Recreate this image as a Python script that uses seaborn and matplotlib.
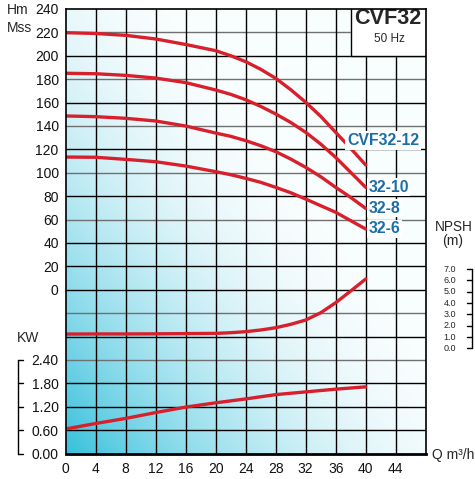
import numpy as np
import pandas as pd
import matplotlib
matplotlib.use("Agg")
import matplotlib.pyplot as plt
import matplotlib.transforms as mtransforms
from matplotlib import font_manager
import seaborn as sns

# flow rate (m3/h) for the head curves
q_head = [0, 4, 8, 12, 16, 20, 22, 24, 26, 28, 30, 32, 34, 36, 38, 40]
# head curves (m) for each model
head_12 = [219.7, 219.0, 217.4, 214.3, 209.6, 204.3, 200.0, 194.9, 188.4, 180.7, 171.0, 160.2, 148.2, 134.5, 120.8, 106.6]
head_10 = [185.0, 184.6, 183.2, 180.9, 177.0, 170.7, 167.0, 162.4, 156.7, 150.2, 143.0, 134.5, 124.5, 113.1, 100.3, 87.5]
head_8 = [148.5, 147.9, 146.5, 144.2, 139.9, 133.9, 131.1, 127.4, 123.1, 118.0, 111.7, 104.6, 96.6, 87.5, 78.9, 69.5]
head_6 = [113.4, 113.2, 111.4, 109.4, 105.7, 100.9, 98.3, 95.2, 91.8, 87.5, 82.9, 77.5, 71.8, 66.2, 59.0, 51.9]
models = ["CVF32-12", "32-10", "32-8", "32-6"]
# NPSH (m)
q_npsh = [0, 4, 8, 12, 16, 20, 22, 24, 26, 28, 30, 32, 34, 36, 38, 40]
npsh_m = [1.26, 1.27, 1.27, 1.28, 1.30, 1.32, 1.38, 1.47, 1.62, 1.82, 2.12, 2.50, 3.14, 4.03, 5.06, 6.12]
# power (kW)
q_kw = [0, 4, 8, 12, 16, 20, 24, 28, 32, 36, 40]
power_kw = [0.63, 0.77, 0.90, 1.05, 1.19, 1.30, 1.40, 1.51, 1.58, 1.65, 1.71]

x_ticks = list(range(0, 48, 4))
head_ticks = list(range(0, 260, 20))
kw_ticks = [0.00, 0.60, 1.20, 1.80, 2.40]
npsh_ticks = [0.0, 1.0, 2.0, 3.0, 4.0, 5.0, 6.0, 7.0]


# secondary scales drawn in head units
def kw_to_h(v):
    return -140 + np.asarray(v) / 0.6 * 20


def npsh_to_h(v):
    return -50.1 + np.asarray(v) * 9.68


sns.set_theme(style="white")
names = {f.name for f in font_manager.fontManager.ttflist}
narrow = "Liberation Sans Narrow" in names
plt.rcParams["font.family"] = ["Liberation Sans", "DejaVu Sans"]
cond = ["Liberation Sans Narrow", "Liberation Sans", "DejaVu Sans"] if narrow else ["Liberation Sans", "DejaVu Sans"]
k = 1.0 if narrow else 0.82

red = "#d8202c"
blue = "#1a6ea8"

fig = plt.figure(figsize=(4.75, 4.79), dpi=100)
ax = fig.add_axes([0.1383, 0.0532, 0.7579, 0.9282])
ax.set_xlim(0, 48)
ax.set_ylim(-140, 240)

# background gradient
U, V = np.meshgrid(np.linspace(0, 1, 300), np.linspace(0, 1, 300))
t = np.clip(1 - (U + 0.9 * V) / 1.2, 0, 1) ** 1.8 * 0.95 + 0.03
cyan = np.array([0.20, 0.75, 0.86])
img = (1 - t[..., None]) * np.ones(3) + t[..., None] * cyan
ax.imshow(img, origin="lower", extent=(0, 48, -140, 240), aspect="auto", zorder=0)

# grid
gray_rows = [220, 180, 140, 100, 60, -20, -60]
for y in range(-120, 240, 20):
    ax.axhline(y, color="#707070" if y in gray_rows else "black", lw=1.0, zorder=1)
for x in range(4, 48, 4):
    ax.axvline(x, color="black", lw=1.0, zorder=1)

# title box
ax.fill_between([38, 48], 200, 240, color="white", zorder=2)
ax.plot([38, 38, 48], [240, 200, 200], color="black", lw=1.0, zorder=2)
ax.text(43.0, 231.5, "CVF32", ha="center", va="center", fontsize=19 * k, fontweight="bold", family=cond, zorder=3)
ax.text(43.2, 214.2, "50 Hz", ha="center", va="center", fontsize=8.5, zorder=3)

# head curves
df = pd.DataFrame({
    "Q": q_head * 4,
    "H": head_12 + head_10 + head_8 + head_6,
    "model": [m for m in models for _ in q_head],
})
sns.lineplot(data=df, x="Q", y="H", units="model", estimator=None, color=red,
             lw=2.4, ax=ax, zorder=4)
sns.lineplot(x=q_npsh, y=npsh_to_h(npsh_m), color=red, lw=2.4, ax=ax, zorder=4)
sns.lineplot(x=q_kw, y=kw_to_h(power_kw), color=red, lw=2.4, ax=ax, zorder=4)

# curve labels
label_pos = [(37.5, head_12[-1] + 21), (40.35, head_10[-1]), (40.35, head_8[-1]), (40.35, head_6[-1])]
for (lx, ly), m in zip(label_pos, models):
    ax.text(lx, ly, m, ha="left", va="center", color=blue, fontsize=14 * k, fontweight="bold",
            family=cond, zorder=5,
            bbox=dict(boxstyle="square,pad=0.1", fc="white", ec="none"))

# axes ticks
ax.set_xticks(x_ticks)
ax.set_xticklabels([str(v) for v in x_ticks], fontsize=10)
ax.set_yticks(list(kw_to_h(kw_ticks)) + head_ticks)
ax.set_yticklabels([f"{v:.2f}" for v in kw_ticks] + [str(v) for v in head_ticks], fontsize=10)
ax.tick_params(length=0, pad=5, colors="#111111")
ax.tick_params(axis="x", pad=6)
ax.set_xlabel("")
ax.set_ylabel("")
for s in ax.spines.values():
    s.set_color("black")
    s.set_linewidth(1.2)
    s.set_zorder(6)
ax.spines["bottom"].set_linewidth(2.0)

# kW bracket on the left
tr = mtransforms.blended_transform_factory(ax.transAxes, ax.transData)
kh = kw_to_h(kw_ticks)
ax.plot([-0.1325, -0.1325], [kh[0], kh[-1]], color="black", lw=1.0, transform=tr, clip_on=False)
for y in kh:
    ax.plot([-0.1325, -0.119], [y, y], color="black", lw=1.0, transform=tr, clip_on=False)

# NPSH bracket on the right
nh = npsh_to_h(npsh_ticks)
ax.plot([1.128, 1.128], [nh[0], nh[-1]], color="black", lw=1.0, transform=tr, clip_on=False)
for y, v in zip(nh, npsh_ticks):
    ax.plot([1.114, 1.128], [y, y], color="black", lw=1.0, transform=tr, clip_on=False)
    ax.text(1.085, y, f"{v:.1f}", ha="right", va="center", fontsize=6.5, transform=tr)

# axis titles
W, H = 475, 479
fig.text(7 / W, 1 - 10 / H, "Hm", ha="left", va="center", fontsize=10)
fig.text(7 / W, 1 - 28 / H, "Mss", ha="left", va="center", fontsize=10)
fig.text(17 / W, 1 - 338 / H, "KW", ha="left", va="center", fontsize=10)
fig.text(454 / W, 1 - 227 / H, "NPSH", ha="center", va="center", fontsize=12 * k, family=cond)
fig.text(453 / W, 1 - 241 / H, "(m)", ha="center", va="center", fontsize=10)
fig.text(432 / W, 1 - 455 / H, "Q m³/h", ha="left", va="center", fontsize=10)

fig.savefig("out.png", dpi=100, facecolor="white")
